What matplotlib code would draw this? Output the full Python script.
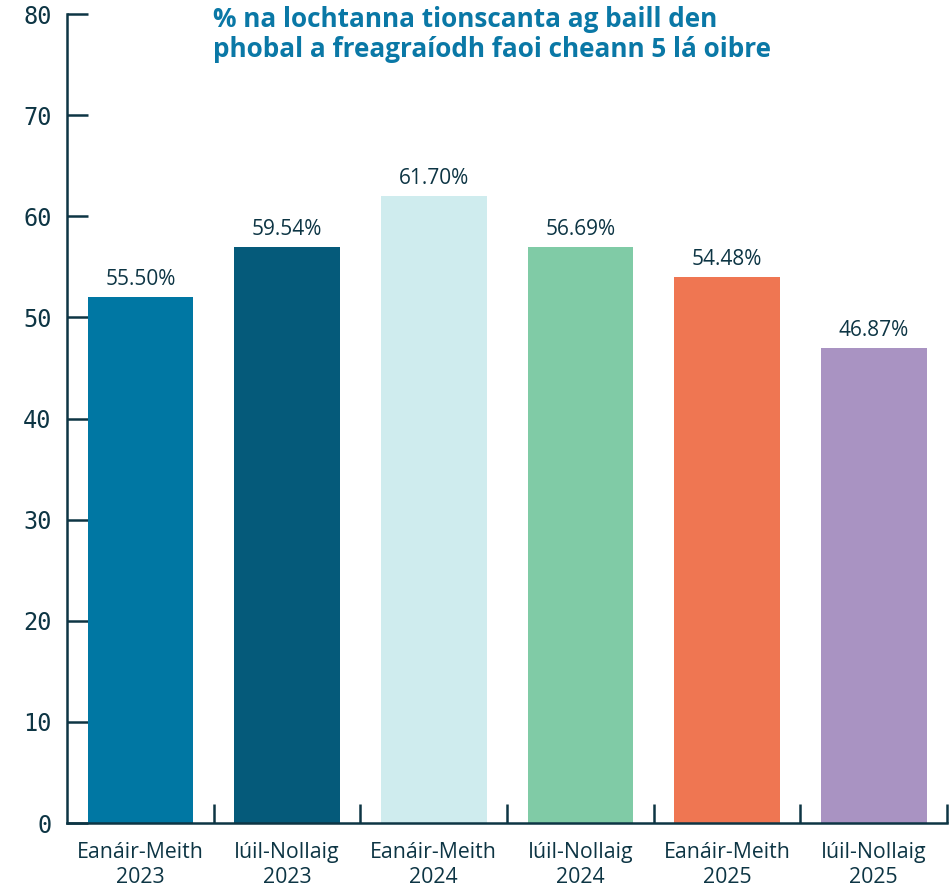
import matplotlib
matplotlib.use("Agg")
import matplotlib.pyplot as plt
from matplotlib.ticker import FixedLocator

# data
categories = ["Eanáir-Meith\n2023", "Iúil-Nollaig\n2023", "Eanáir-Meith\n2024",
              "Iúil-Nollaig\n2024", "Eanáir-Meith\n2025", "Iúil-Nollaig\n2025"]
bar_heights = [52, 57, 62, 57, 54, 47]
value_labels = ["55.50%", "59.54%", "61.70%", "56.69%", "54.48%", "46.87%"]
colors = ["#0077a3", "#055a7a", "#cfecee", "#80cba6", "#ef7652", "#a993c2"]
y_ticks = [0, 10, 20, 30, 40, 50, 60, 70, 80]
title = "% na lochtanna tionscanta ag baill den\nphobal a freagraíodh faoi cheann 5 lá oibre"

INK = "#0d3544"
plt.rcParams["font.family"] = ["Open Sans", "DejaVu Sans"]

fig = plt.figure(figsize=(9.49, 8.89), dpi=100)
ax = fig.add_axes([0.0706, 0.0742, 0.9274, 0.9100])

x = list(range(len(categories)))
ax.bar(x, bar_heights, width=0.72, color=colors, zorder=2)
for xi, h, lab in zip(x, bar_heights, value_labels):
    ax.annotate(lab, (xi, h), xytext=(0, 5), textcoords="offset points",
                ha="center", va="bottom", fontsize=15, color=INK)

ax.set_xlim(-0.5, 5.5)
ax.set_ylim(0, 80)
ax.set_yticks(y_ticks)
ax.set_xticks(x)
ax.set_xticklabels(categories, fontsize=15.3, color=INK, linespacing=1.2)
ax.xaxis.set_minor_locator(FixedLocator([0.5, 1.5, 2.5, 3.5, 4.5, 5.5]))
for lab in ax.get_yticklabels():
    lab.set_family("DejaVu Sans Mono")

for side in ["top", "right"]:
    ax.spines[side].set_visible(False)
for side in ["left", "bottom"]:
    ax.spines[side].set_color(INK)
    ax.spines[side].set_linewidth(1.8)

ax.tick_params(axis="y", direction="in", length=15, width=1.8, color=INK,
               labelsize=17, labelcolor=INK, pad=11)
ax.tick_params(axis="x", which="major", length=0, pad=14)
ax.tick_params(axis="x", which="minor", direction="in", length=14, width=1.8, color=INK)

fig.text(213 / 949, 1 - 6 / 889, title, ha="left", va="top", fontsize=18.8,
         fontweight="bold", color="#0a78a6", linespacing=1.12)

fig.savefig("out.png", dpi=100)
